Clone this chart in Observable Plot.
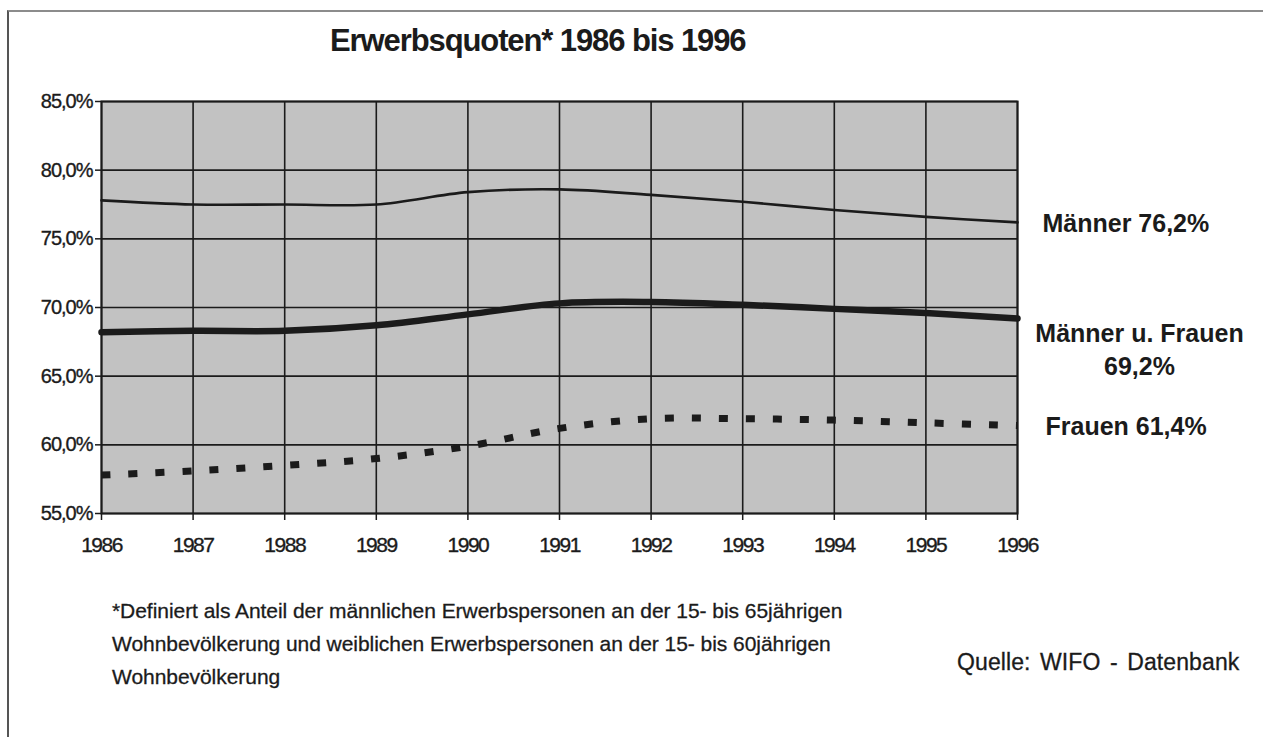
<!DOCTYPE html>
<html><head><meta charset="utf-8">
<script src="https://cdn.jsdelivr.net/npm/d3@7"></script>
<script src="https://cdn.jsdelivr.net/npm/@observablehq/plot@0.6"></script>
<style>
body{margin:0;background:#fff;}
#wrap{position:relative;width:1263px;height:737px;overflow:hidden;font-family:"Liberation Sans",Arial,sans-serif;color:#1b1b1b;}
#frame{position:absolute;left:7px;top:10px;width:1270px;height:740px;border-top:2px solid #8c8c8c;border-left:2px solid #555;box-sizing:border-box;}
#chart{position:absolute;left:0;top:0;}
#title{position:absolute;left:330px;top:21px;font-weight:bold;font-size:31px;letter-spacing:-1.1px;white-space:nowrap;line-height:40px;}
#note{position:absolute;left:112px;top:594px;font-size:21px;letter-spacing:-0.05px;line-height:33px;white-space:nowrap;-webkit-text-stroke:0.3px #1b1b1b;}
#source{position:absolute;left:957px;top:646px;font-size:23px;letter-spacing:0.1px;word-spacing:3px;line-height:33px;white-space:nowrap;-webkit-text-stroke:0.3px #1b1b1b;}
g[aria-label="x-axis tick label"] text{letter-spacing:-1.5px;stroke:#1b1b1b;stroke-width:0.35px;}
g[aria-label="y-axis tick label"] text{letter-spacing:-1px;stroke:#1b1b1b;stroke-width:0.35px;}
g[aria-label="end-label"] text{letter-spacing:-1.7px;}
</style></head>
<body>
<div id="wrap">
  <div id="frame"></div>
  <div id="chart"></div>
  <div id="title"></div>
  <div id="note"></div>
  <div id="source"></div>
</div>
<script>
const years = [1986, 1987, 1988, 1989, 1990, 1991, 1992, 1993, 1994, 1995, 1996];
const maenner = [77.8, 77.5, 77.5, 77.5, 78.4, 78.6, 78.2, 77.7, 77.1, 76.6, 76.2];
const gesamt  = [68.2, 68.3, 68.3, 68.7, 69.5, 70.3, 70.4, 70.2, 69.9, 69.6, 69.2];
const frauen  = [57.8, 58.1, 58.5, 59.0, 59.9, 61.2, 61.9, 61.9, 61.8, 61.6, 61.4];
const yTicks = [55, 60, 65, 70, 75, 80, 85];
const endLabels = ["Männer 76,2%", "Männer u. Frauen\n69,2%", "Frauen 61,4%"];
const titleText = "Erwerbsquoten* 1986 bis 1996";
const noteLines = [
  "*Definiert als Anteil der männlichen Erwerbspersonen an der 15- bis 65jährigen",
  "Wohnbevölkerung und weiblichen Erwerbspersonen an der 15- bis 60jährigen",
  "Wohnbevölkerung"
];
const sourceText = "Quelle: WIFO - Datenbank";

const rows = (vals, name) => years.map((y, i) => ({year: y, value: vals[i], series: name}));
const mRows = rows(maenner, "Männer");
const gRows = rows(gesamt, "Männer u. Frauen");
const fRows = rows(frauen, "Frauen");
const last = a => [{...a[a.length - 1]}];
const mEnd = last(mRows).map(d => ({...d, label: endLabels[0]}));
const gEnd = last(gRows).map(d => ({...d, label: endLabels[1]}));
const fEnd = last(fRows).map(d => ({...d, label: endLabels[2]}));

const pct = d => d.toFixed(1).replace(".", ",") + "%";
const ink = "#1b1b1b";

const plot = Plot.plot({
  width: 1263, height: 737,
  marginLeft: 101, marginRight: 246, marginTop: 101, marginBottom: 224,
  style: {fontFamily: "'Liberation Sans', Arial, sans-serif", color: ink, background: "transparent"},
  x: {domain: [1986, 1996]},
  y: {domain: [55, 85]},
  marks: [
    Plot.frame({fill: "#c2c2c2"}),
    Plot.gridX(years, {stroke: ink, strokeOpacity: 1, strokeWidth: 1.6}),
    Plot.gridY(yTicks, {stroke: ink, strokeOpacity: 1, strokeWidth: 1.6}),
    Plot.frame({stroke: ink, strokeWidth: 2}),
    Plot.axisX(years, {tickSize: 7, tickPadding: 17, fontSize: 21, label: null, tickFormat: d => String(d), stroke: ink, strokeWidth: 1.5}),
    Plot.axisY(yTicks, {tickSize: 6, tickPadding: 3, fontSize: 20, label: null, tickFormat: pct, stroke: ink, strokeWidth: 1.5}),
    Plot.line(mRows, {x: "year", y: "value", stroke: ink, strokeWidth: 2.6, curve: "catmull-rom"}),
    Plot.line(gRows, {x: "year", y: "value", stroke: ink, strokeWidth: 6.5, curve: "catmull-rom"}),
    Plot.line(fRows, {x: "year", y: "value", stroke: ink, strokeWidth: 7, strokeDasharray: "9,18", strokeLinecap: "butt", curve: "catmull-rom"}),
    Plot.text(mEnd, {x: "year", y: "value", text: "label", dx: 25, dy: 2, textAnchor: "start", fontSize: 25, fontWeight: "bold", fill: ink, ariaLabel: "end-label"}),
    Plot.text(gEnd, {x: "year", y: "value", text: "label", dx: 122, dy: 29, textAnchor: "middle", lineHeight: 1.32, fontSize: 25, fontWeight: "bold", fill: ink, ariaLabel: "end-label"}),
    Plot.text(fEnd, {x: "year", y: "value", text: "label", dx: 28, dy: 1, textAnchor: "start", fontSize: 25, fontWeight: "bold", fill: ink, ariaLabel: "end-label"})
  ]
});
document.getElementById("chart").appendChild(plot);
document.getElementById("title").textContent = titleText;
document.getElementById("note").innerHTML = noteLines.map(s => s.replace(/&/g, "&amp;").replace(/</g, "&lt;")).join("<br>");
document.getElementById("source").textContent = sourceText;
</script>
</body></html>
